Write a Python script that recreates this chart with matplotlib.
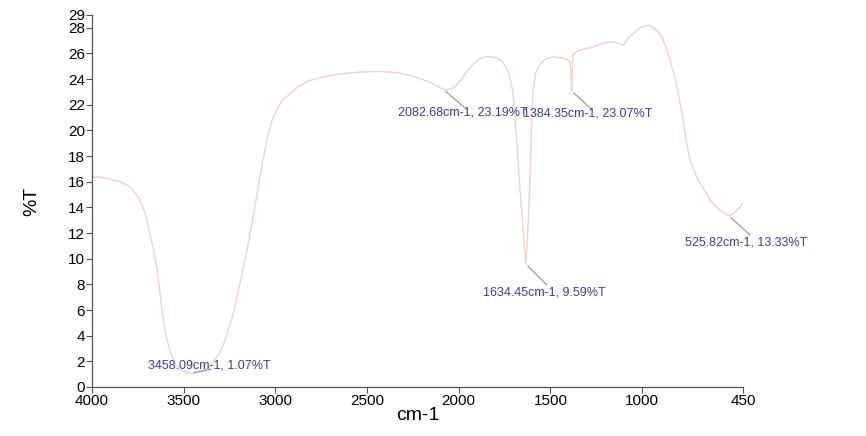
import matplotlib
matplotlib.use("Agg")
import matplotlib.pyplot as plt

plt.rcParams['font.family'] = ['Liberation Sans', 'DejaVu Sans']

wavenumber = [4000, 3956, 3900, 3847, 3800, 3776, 3738, 3710, 3684, 3665,
              3646, 3630, 3613, 3595, 3575, 3550, 3520, 3490, 3458, 3420,
              3373, 3340, 3302, 3270, 3231, 3190, 3155, 3125, 3100, 3067,
              3040, 3013, 2985, 2958, 2910, 2866, 2811, 2730, 2648, 2540,
              2430, 2340, 2266, 2200, 2150, 2110, 2083, 2050, 2020, 1990,
              1955, 1920, 1884, 1850, 1813, 1785, 1764, 1740, 1721, 1705,
              1693, 1680, 1666, 1650, 1634.45, 1625, 1615, 1605, 1595, 1580,
              1560, 1541, 1515, 1486, 1440, 1404, 1393, 1388, 1384.35, 1380,
              1377, 1360, 1339, 1300, 1268, 1240, 1213, 1185, 1159, 1130,
              1104, 1090, 1077, 1050, 1028, 1000, 974, 955, 941, 915,
              892, 870, 848, 830, 810, 795, 777, 760, 739, 710,
              685, 655, 630, 600, 576, 550, 532, 525.82, 510, 490,
              466, 450]
transmittance = [16.37, 16.37, 16.2, 16.0, 15.7, 15.4, 14.6, 13.6, 12.0, 10.8,
                 9.35, 7.5, 5.5, 4.0, 2.9, 1.9, 1.35, 1.15, 1.07, 1.15,
                 1.4, 1.9, 2.65, 3.8, 5.6, 8.2, 10.6, 12.9, 15.0, 17.7,
                 19.6, 21.0, 21.8, 22.4, 23.0, 23.5, 23.9, 24.2, 24.4, 24.55,
                 24.6, 24.5, 24.3, 24.0, 23.7, 23.4, 23.19, 23.2, 23.4, 23.9,
                 24.6, 25.2, 25.6, 25.75, 25.72, 25.6, 25.4, 24.9, 24.2, 23.0,
                 21.0, 18.5, 15.4, 12.5, 9.59, 11.5, 15.0, 19.5, 23.0, 24.5,
                 25.1, 25.4, 25.65, 25.72, 25.65, 25.5, 25.3, 24.5, 23.07, 24.8,
                 25.9, 26.1, 26.27, 26.4, 26.5, 26.65, 26.8, 26.9, 26.9, 26.8,
                 26.66, 26.85, 27.2, 27.5, 27.83, 28.1, 28.2, 28.15, 28.0, 27.7,
                 27.28, 26.5, 25.5, 24.6, 23.4, 22.3, 20.8, 19.2, 17.7, 16.6,
                 15.9, 15.2, 14.6, 14.1, 13.8, 13.55, 13.4, 13.33, 13.45, 13.7,
                 14.03, 14.34]

peak_w = [3458.09, 2082.68, 1384.35, 1634.45, 525.82]
peak_t = [1.07, 23.19, 23.07, 9.59, 13.33]
peak_labels = ["3458.09cm-1, 1.07%T", "2082.68cm-1, 23.19%T",
               "1384.35cm-1, 23.07%T", "1634.45cm-1, 9.59%T",
               "525.82cm-1, 13.33%T"]
# offsets in pixels: line end, text anchor (left, center)
line_off = [(20, 4), (21, -18), (21, -19), (21, -21), (21, -19)]
text_off = [(-43, 8), (-46, -23), (-49, -22), (-43, -29), (-44, -26)]

xticks = [4000, 3500, 3000, 2500, 2000, 1500, 1000, 450]
yticks = [0, 2, 4, 6, 8, 10, 12, 14, 16, 18, 20, 22, 24, 26, 28, 29]

fig = plt.figure(figsize=(8.66, 4.36), dpi=100)
ax = fig.add_axes([0.106, 0.1124, 0.752, 0.8532])
ax.plot(wavenumber, transmittance, color='#f3d2c9', linewidth=1.0)
ax.set_xlim(4000, 450)
ax.set_ylim(0, 29)
ax.set_xticks(xticks)
ax.set_yticks(yticks)
ax.tick_params(axis='both', direction='out', length=4, width=0.8,
               color='#555555', labelsize=11, pad=1)
for s in ['top', 'right']:
    ax.spines[s].set_visible(False)
for s in ['left', 'bottom']:
    ax.spines[s].set_color('#555555')
    ax.spines[s].set_linewidth(0.9)
ax.set_xlabel('cm-1', fontsize=14, labelpad=-1)
ax.set_ylabel('%T', fontsize=14, labelpad=20)

for w, t, lab, lo, to in zip(peak_w, peak_t, peak_labels, line_off, text_off):
    ax.annotate('', xy=(w, t), xytext=lo, textcoords='offset pixels',
                arrowprops=dict(arrowstyle='-', color='#9090b0', lw=0.8,
                                shrinkA=0, shrinkB=2))
    ax.annotate(lab, xy=(w, t), xytext=to, textcoords='offset pixels',
                ha='left', va='center', fontsize=9, color='#3a3ab0')

fig.savefig('out.png', dpi=100)
